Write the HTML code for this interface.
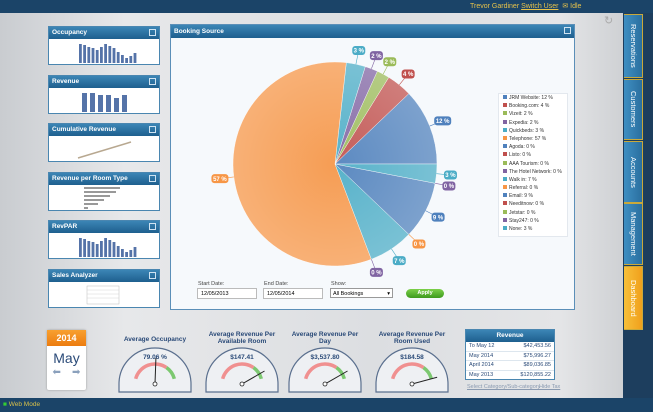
<!DOCTYPE html>
<html><head><meta charset="utf-8"><style>
body{margin:0;width:653px;height:412px;overflow:hidden;font-family:"Liberation Sans",sans-serif;background:#1d3e5e;position:relative}
.abs{position:absolute}
.panel{position:absolute;left:48px;width:112px;height:39px;background:#fff;border:1px solid #4a86b0;box-sizing:border-box}
.ph{height:12px;background:linear-gradient(#3b85b5,#1e5f8e);color:#fff;font-size:6.5px;font-weight:bold;line-height:12px;padding-left:3px;position:relative}
.ph i{position:absolute;right:3px;top:2px;width:7px;height:7px;border:1px solid #cfe3f2;box-sizing:border-box}
.tab{position:absolute;left:624px;width:19px;background:linear-gradient(90deg,#3f8fc2,#2a6f9f);border:1px solid #c9a93a;border-left:none;color:#fff;font-size:7.5px;writing-mode:vertical-rl;text-align:center;line-height:17px;box-sizing:border-box}
.gt{position:absolute;font-size:6.5px;font-weight:bold;color:#2a4a78;text-align:center;width:90px}
.row{display:flex;justify-content:space-between;font-size:5.5px;color:#2a4a78;padding:0 3px;height:8.6px;line-height:8.6px;border-bottom:1px solid #dde6ee}
</style></head><body>
<div class="abs" style="left:0;top:0;width:653px;height:13px;background:#1b4468"></div>
<div class="abs" style="left:470px;top:2px;font-size:7px;color:#e8c34a">Trevor Gardiner <u>Switch User</u> &nbsp;&#9993; Idle</div>
<div class="abs" style="left:0;top:13px;width:623px;height:385px;background:linear-gradient(90deg,#c9ccd0,#e7e8ea 20%,#dcdee1 60%,#e4e5e7 90%,#cfd1d4)"></div>
<div class="abs" style="left:604px;top:14px;font-size:11px;color:#aaa">&#8635;</div>
<div class="abs" style="left:0;top:398px;width:653px;height:14px;background:#1b4468"></div>
<div class="abs" style="left:3px;top:401px;font-size:6.5px;color:#d8c04a"><span style="color:#3c3">&#9632;</span> Web Mode</div>

<div class="tab" style="top:14px;height:64px">Reservations</div>
<div class="tab" style="top:79px;height:61px">Customers</div>
<div class="tab" style="top:141px;height:62px">Accounts</div>
<div class="tab" style="top:203px;height:62px">Management</div>
<div class="tab" style="top:266px;height:64px;background:linear-gradient(90deg,#f7c03a,#f0a01c)">Dashboard</div>

<div class="panel" style="top:26px"><div class="ph">Occupancy<i></i></div>
<svg width="110" height="26"><g fill="#5573a8" id="occb"></g></svg></div>
<div class="panel" style="top:75px"><div class="ph">Revenue<i></i></div>
<svg width="110" height="26"><g fill="#5573a8"><rect x="33" y="5" width="5" height="19"/><rect x="41" y="5" width="5" height="19"/><rect x="49" y="7" width="5" height="17"/><rect x="57" y="7" width="5" height="17"/><rect x="65" y="10" width="5" height="14"/><rect x="73" y="7" width="5" height="17"/></g></svg></div>
<div class="panel" style="top:123px"><div class="ph">Cumulative Revenue<i></i></div>
<svg width="110" height="26"><line x1="29" y1="22" x2="82" y2="6" stroke="#b8a890" stroke-width="1.5"/></svg></div>
<div class="panel" style="top:172px"><div class="ph">Revenue per Room Type<i></i></div>
<svg width="110" height="26"><g fill="#999"><rect x="35" y="2" width="36" height="2"/><rect x="35" y="6" width="32" height="2"/><rect x="35" y="10" width="26" height="2"/><rect x="35" y="14" width="20" height="2"/><rect x="35" y="18" width="14" height="2"/><rect x="35" y="22" width="4" height="2"/></g></svg></div>
<div class="panel" style="top:220px"><div class="ph">RevPAR<i></i></div>
<svg width="110" height="26"><g fill="#5573a8" id="revb"></g></svg></div>
<div class="panel" style="top:269px"><div class="ph">Sales Analyzer<i></i></div>
<svg width="110" height="26"><rect x="38" y="4" width="32" height="18" fill="none" stroke="#bbb" stroke-width="0.5"/><g stroke="#ccc" stroke-width="0.4"><line x1="38" y1="8" x2="70" y2="8"/><line x1="38" y1="12" x2="70" y2="12"/><line x1="38" y1="16" x2="70" y2="16"/></g></svg></div>

<div class="abs" style="left:170px;top:24px;width:405px;height:286px;background:#f6f9fc;border:1px solid #5b8fb8;box-sizing:border-box">
<div class="ph" style="height:13px;line-height:13px">Booking Source<i></i></div></div>
<svg class="abs" style="left:0;top:0" width="653" height="412" id="pie">
<defs><radialGradient id="sh" cx="0.5" cy="0.5" r="0.5"><stop offset="0" stop-color="#fff" stop-opacity="0"/><stop offset="1" stop-color="#fff" stop-opacity="0.2"/></radialGradient></defs>
<g id="slices"></g><g id="lbls"></g></svg>
<div class="abs" style="left:498px;top:93px;width:68px;height:142px;background:#fff;border:1px solid #e3e8ee" id="legend"></div>

<div class="abs" style="left:198px;top:281px;font-size:5.5px;color:#444">Start Date:</div>
<div class="abs" style="left:197px;top:288px;width:60px;height:11px;background:#fff;border:1px solid #bbb;font-size:5.5px;line-height:11px;padding-left:3px;box-sizing:border-box">12/05/2013</div>
<div class="abs" style="left:264px;top:281px;font-size:5.5px;color:#444">End Date:</div>
<div class="abs" style="left:263px;top:288px;width:60px;height:11px;background:#fff;border:1px solid #bbb;font-size:5.5px;line-height:11px;padding-left:3px;box-sizing:border-box">12/05/2014</div>
<div class="abs" style="left:331px;top:281px;font-size:5.5px;color:#444">Show:</div>
<div class="abs" style="left:330px;top:288px;width:63px;height:10px;background:#fff;border:1px solid #999;font-size:5.5px;line-height:10px;padding-left:2px;box-sizing:border-box">All Bookings<span style="float:right;padding-right:2px">&#9662;</span></div>
<div class="abs" style="left:406px;top:289px;width:38px;height:9px;border-radius:5px;background:linear-gradient(#7cd04a,#3c9a1e);color:#fff;font-size:5.5px;font-weight:bold;text-align:center;line-height:9px">Apply</div>

<div class="abs" style="left:47px;top:330px;width:39px;height:60px;background:#fff;border-radius:2px;box-shadow:0 0 2px #999">
<div style="height:16px;background:linear-gradient(#f8a030,#ec7c10);color:#fff;font-weight:bold;font-size:9px;text-align:center;line-height:16px">2014</div>
<div style="text-align:center;font-size:14px;color:#2a4a78;margin-top:4px">May</div>
<div style="display:flex;justify-content:space-around;color:#8aa0bc;font-size:10px;margin-top:1px"><span>&#11013;</span><span>&#10145;</span></div></div>

<div class="gt" style="left:110px;top:336px">Average Occupancy</div>
<div class="gt" style="left:197px;top:331px">Average Revenue Per Available Room</div>
<div class="gt" style="left:285px;top:331px;width:80px">Average Revenue Per Day</div>
<div class="gt" style="left:372px;top:331px;width:80px">Average Revenue Per Room Used</div>
<svg class="abs" style="left:0;top:0" width="653" height="412" id="gauges"></svg>

<div class="abs" style="left:465px;top:329px;width:90px;height:51px;background:#fff;border:1px solid #4a86b0;box-sizing:border-box">
<div style="height:12px;background:linear-gradient(#3b85b5,#1e5f8e);color:#fff;font-size:6.5px;font-weight:bold;text-align:center;line-height:12px">Revenue</div>
<div class="row"><span>To May 12</span><span>$42,453.56</span></div>
<div class="row"><span>May 2014</span><span>$75,996.27</span></div>
<div class="row"><span>April 2014</span><span>$89,036.85</span></div>
<div class="row" style="border:none"><span>May 2013</span><span>$120,855.22</span></div></div>
<div class="abs" style="left:467px;top:384px;font-size:5.5px;color:#8a9ab0;text-decoration:underline">Select Category/Sub-category</div>
<div class="abs" style="left:539px;top:384px;font-size:5.5px;color:#8a9ab0;text-decoration:underline">Hide Tax</div>

<script>
const categories=["JRM Website","Booking.com","Vizeit","Expedia","Quickbeds","Telephone","Agoda","Listo","AAA Tourism","The Hotel Network","Walk in","Referral","Email","Needitnow","Jetstar","Stay247","None"];
const values=[12,4,2,2,3,57,0,0,0,0,7,0,9,0,0,0,3];
const colors=["#4f81bd","#c0504d","#9bbb59","#8064a2","#4bacc6","#f79646","#4f81bd","#c0504d","#9bbb59","#8064a2","#4bacc6","#f79646","#4f81bd","#c0504d","#9bbb59","#8064a2","#4bacc6"];
const showZeroLabel=[false,false,false,false,false,false,false,false,false,true,false,true,false,false,false,true,false];
const occBars=[19,18,16,15,13,16,19,17,15,11,8,5,7,10];
const gaugeCenters=[155,242,325,412];
const gaugeValues=["79.06 %","$147.41","$3,537.80","$184.58"];
const gaugeAngles=[88,30,30,15];

const NS="http://www.w3.org/2000/svg";
function mk(t,a,p){const e=document.createElementNS(NS,t);for(const k in a)e.setAttribute(k,a[k]);p.appendChild(e);return e;}
const cx=335,cy=164,R=102;
const total=values.reduce((a,b)=>a+b,0);
const sl=document.getElementById('slices'),lb=document.getElementById('lbls');
let a0=0;
values.forEach((v,i)=>{
  const sweep=v/total*2*Math.PI;const a1=a0+sweep;
  const x0=cx+R*Math.cos(a0),y0=cy-R*Math.sin(a0),x1=cx+R*Math.cos(a1),y1=cy-R*Math.sin(a1);
  if(v>0){
    const p=mk('path',{d:`M${cx},${cy}L${x0},${y0}A${R},${R} 0 ${sweep>Math.PI?1:0} 0 ${x1},${y1}Z`,fill:colors[i],stroke:'#fff','stroke-width':0.4,opacity:0.92},sl);
    
    
  }
  if(v>0||showZeroLabel[i]){
    const m=(a0+a1)/2;const lx=cx+(R+14)*Math.cos(m),ly=cy-(R+14)*Math.sin(m);
    mk('line',{x1:cx+R*Math.cos(m),y1:cy-R*Math.sin(m),x2:lx,y2:ly,stroke:colors[i],'stroke-width':0.6},lb);
    const g=mk('g',{},lb);
    
    
    const w=v>=10?17:13;
    mk('rect',{x:lx-w/2,y:ly-4.5,width:w,height:9,rx:3,fill:colors[i]},g);
    const t=mk('text',{x:lx,y:ly+2.2,'text-anchor':'middle','font-size':6,'font-weight':'bold',fill:'#fff','font-family':'Liberation Sans'},g);
    t.textContent=v+' %';
  }
  a0=a1;
});
mk('circle',{cx:cx,cy:cy,r:R,fill:'url(#sh)'},sl);
const lg=document.getElementById('legend');
categories.forEach((c,i)=>{
  const d=document.createElement('div');
  
  
  d.style.cssText='font-size:5px;color:#333;height:8.2px;line-height:8.2px;padding-left:4px;white-space:nowrap';
  d.innerHTML='<span style="display:inline-block;width:4px;height:4px;background:'+colors[i]+';margin-right:2px"></span>'+c+': '+values[i]+' %';
  lg.appendChild(d);
});
['occb','revb'].forEach(id=>{const g=document.getElementById(id);
  occBars.forEach((h,i)=>{const r=mk('rect',{x:30+i*4.2,y:24-h,width:2.8,height:h},g);
    
    });});
const gs=document.getElementById('gauges');
gaugeCenters.forEach((x,i)=>{
  const by=392,r=36,py=384;
  const g=mk('g',{},gs);
  
  
  mk('path',{d:`M${x-r},${by}L${x-r},${py}A${r},${r} 0 0 1 ${x+r},${py}L${x+r},${by}Z`,fill:'#eef0f3',stroke:'#5a6f8e','stroke-width':1.2},g);
  const ar=20;
  const pt=a=>[x+ar*Math.cos(a*Math.PI/180),py-ar*Math.sin(a*Math.PI/180)];
  let [ax,ay]=pt(165),[bx,by2]=pt(55),[ccx,ccy]=pt(15);
  mk('path',{d:`M${ax},${ay}A${ar},${ar} 0 0 1 ${bx},${by2}`,fill:'none',stroke:'#f09090','stroke-width':3.5},g);
  mk('path',{d:`M${bx},${by2}A${ar},${ar} 0 0 1 ${ccx},${ccy}`,fill:'none',stroke:'#7cc870','stroke-width':3.5},g);
  const t=mk('text',{x:x,y:py-25,'text-anchor':'middle','font-size':6.5,'font-weight':'bold',fill:'#2a4a78','font-family':'Liberation Sans'},g);
  t.textContent=gaugeValues[i];
  const na=gaugeAngles[i]*Math.PI/180;
  mk('line',{x1:x,y1:py,x2:x+26*Math.cos(na),y2:py-26*Math.sin(na),stroke:'#222','stroke-width':1},g);
  mk('circle',{cx:x,cy:py,r:2,fill:'#fff',stroke:'#222','stroke-width':0.8},g);
});
</script>
</body></html>
